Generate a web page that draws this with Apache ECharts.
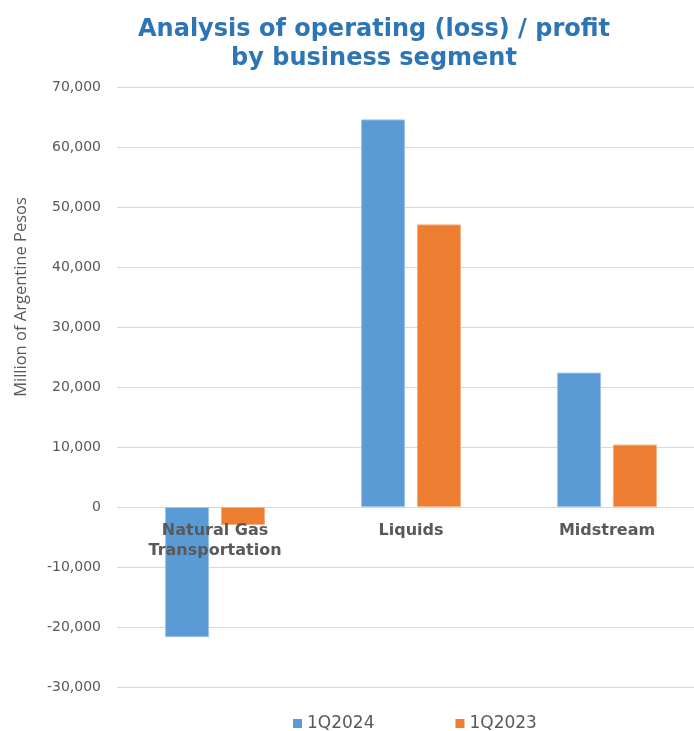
<!DOCTYPE html>
<html><head><meta charset="utf-8">
<script src="https://cdn.jsdelivr.net/npm/echarts@6/dist/echarts.min.js"></script>
<style>html,body{margin:0;padding:0;background:#fff;overflow:hidden}#c{width:694px;height:731px}</style>
</head><body><div id="c"></div>
<script>
var categories = ["Natural Gas\nTransportation", "Liquids", "Midstream"];
var series2024 = [-21700, 64600, 22400];
var series2023 = [-3000, 47100, 10400];
var seriesNames = ["1Q2024", "1Q2023"];
var yTicks = {min: -30000, max: 70000, interval: 10000};

var chart = echarts.init(document.getElementById('c'));
chart.setOption({
  animation: false,
  title: {
    text: "Analysis of operating (loss) / profit\nby business segment",
    left: 369, top: 10, textAlign: 'center',
    textStyle: {fontFamily: "DejaVu Sans", fontWeight: 'bold', fontSize: 24, color: '#2E75B6', lineHeight: 29}
  },
  graphic: [{
    type: 'text', x: 13, y: 297, rotation: Math.PI / 2,
    style: {text: "Million of Argentine Pesos", fill: '#595959', font: '16.5px "Open Sans"', align: 'center', verticalAlign: 'top'}
  }],
  legend: {
    left: 288, top: 710, itemWidth: 9, itemHeight: 9, itemGap: 81, icon: 'rect',
    itemStyle: {borderWidth: 0},
    textStyle: {fontFamily: "DejaVu Sans", fontSize: 17, color: '#595959'},
    data: seriesNames
  },
  grid: {left: 117, top: 87, width: 588, height: 600, containLabel: false, outerBoundsMode: 'none'},
  xAxis: {
    type: 'category', data: categories, offset: -180, z: 10,
    axisLine: {show: false, onZero: false}, axisTick: {show: false},
    axisLabel: {interval: 0, fontFamily: "DejaVu Sans", fontWeight: 'bold', fontSize: 16, color: '#595959', lineHeight: 20, margin: 14}
  },
  yAxis: {
    type: 'value', min: yTicks.min, max: yTicks.max, interval: yTicks.interval,
    axisLine: {show: false}, axisTick: {show: false},
    splitLine: {lineStyle: {color: '#d9d9d9', width: 1}},
    axisLabel: {fontFamily: "DejaVu Sans", fontSize: 14, color: '#595959', margin: 16,
      formatter: function (v) { return v.toLocaleString('en-US'); }}
  },
  series: [
    {name: seriesNames[0], type: 'bar', data: series2024, barWidth: 44, barGap: '27%',
      itemStyle: {color: '#5B9BD5', borderColor: '#9DC3E6', borderWidth: 1}},
    {name: seriesNames[1], type: 'bar', data: series2023, barWidth: 44,
      itemStyle: {color: '#ED7D31', borderColor: '#F4B183', borderWidth: 1}}
  ]
});
</script></body></html>
